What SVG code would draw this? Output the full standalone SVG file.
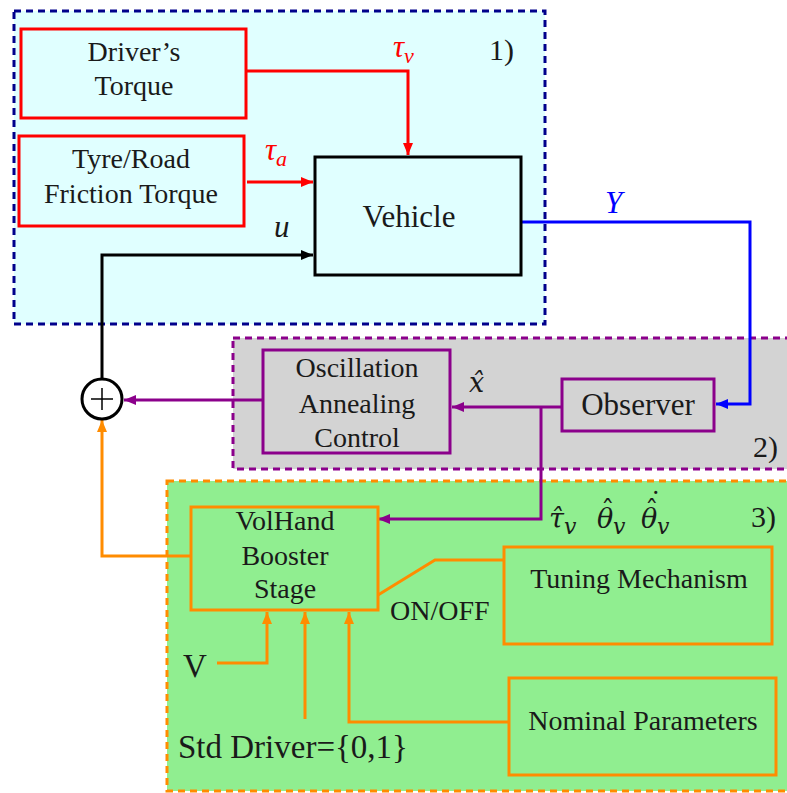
<svg xmlns="http://www.w3.org/2000/svg" width="787" height="793" viewBox="0 0 787 793" font-family="'Liberation Serif', 'DejaVu Serif', serif">
<style>
text{font-family:"Liberation Serif","DejaVu Serif",serif;fill:#1a1a1a}
.bt{font-size:28px;text-anchor:middle}
.big{font-size:31px;text-anchor:middle}
.lab{font-size:30px}
.m{font-size:31px;font-style:italic}
.mm{font-family:"DejaVu Serif",serif;font-size:27px;font-style:italic}
.sub{font-size:22px;font-style:italic}
.up{font-style:normal}
.red{stroke:#ff0000;stroke-width:3;fill:none}
.blk{stroke:#000;stroke-width:3;fill:none}
.blu{stroke:#0000ff;stroke-width:3;fill:none}
.pur{stroke:#8b008b;stroke-width:3;fill:none}
.org{stroke:#ff8c00;stroke-width:3;fill:none}
</style>
<defs>
<marker id="aR" markerUnits="userSpaceOnUse" markerWidth="12" markerHeight="10" refX="12" refY="5" orient="auto"><path d="M0,0L12,5L0,10z" fill="#ff0000"/></marker>
<marker id="aK" markerUnits="userSpaceOnUse" markerWidth="12" markerHeight="10" refX="12" refY="5" orient="auto"><path d="M0,0L12,5L0,10z" fill="#000"/></marker>
<marker id="aB" markerUnits="userSpaceOnUse" markerWidth="12" markerHeight="10" refX="12" refY="5" orient="auto"><path d="M0,0L12,5L0,10z" fill="#0000ff"/></marker>
<marker id="aP" markerUnits="userSpaceOnUse" markerWidth="12" markerHeight="10" refX="12" refY="5" orient="auto"><path d="M0,0L12,5L0,10z" fill="#8b008b"/></marker>
<marker id="aO" markerUnits="userSpaceOnUse" markerWidth="12" markerHeight="10" refX="12" refY="5" orient="auto"><path d="M0,0L12,5L0,10z" fill="#ff8c00"/></marker>
</defs>

<g id="region1">
<rect x="14" y="11" width="531" height="313" fill="#e0ffff" stroke="#00008b" stroke-width="3" stroke-dasharray="7 5"/>
<text class="lab" x="489" y="60">1)</text>
</g>
<g id="region2">
<rect x="233" y="338" width="570" height="131" fill="#d3d3d3" stroke="#8b008b" stroke-width="3" stroke-dasharray="7 5"/>
<text class="lab" x="753" y="457">2)</text>
</g>
<g id="region3">
<rect x="167" y="481" width="640" height="310" fill="#90ee90" stroke="#ff8c00" stroke-width="3" stroke-dasharray="7 5"/>
<text class="lab" x="751" y="527">3)</text>
</g>

<g id="connectors">
<path class="red" d="M246,71H408V155" marker-end="url(#aR)"/>
<path class="red" d="M247,182H313" marker-end="url(#aR)"/>
<path class="blk" d="M102,378V255H313" marker-end="url(#aK)"/>
<path class="blu" d="M522,222H750V404H716" marker-end="url(#aB)"/>
<path class="pur" d="M562,407H452" marker-end="url(#aP)"/>
<path class="pur" d="M541,407V519H378" marker-end="url(#aP)"/>
<path class="pur" d="M263,400H124" marker-end="url(#aP)"/>
<path class="org" d="M191,556H102V420" marker-end="url(#aO)"/>
<path class="org" d="M378,595L435,560H504"/>
<path class="org" d="M217,663H267V612" marker-end="url(#aO)"/>
<path class="org" d="M305,719V612" marker-end="url(#aO)"/>
<path class="org" d="M509,722H349V612" marker-end="url(#aO)"/>
</g>

<g id="labels">
<text class="m" x="393" y="57" style="fill:#ff0000">τ<tspan class="sub" dy="6" style="fill:#ff0000">v</tspan></text>
<text class="m" x="265" y="160" style="fill:#ff0000">τ<tspan class="sub" dy="6" style="fill:#ff0000">a</tspan></text>
<text class="m" x="274" y="237">u</text>
<text class="m" x="605" y="213" style="fill:#0000ff">Y</text>
<text class="mm" x="469" y="392">x̂</text>
<text class="mm" x="549" y="528">τ̂<tspan class="sub" dy="6">v</tspan></text>
<text class="mm" x="597" y="528">θ<tspan class="up" x="601" y="520">ˆ</tspan><tspan class="sub" x="613" y="534">v</tspan></text>
<text class="mm" x="641" y="528">θ<tspan class="up" x="645" y="520">ˆ</tspan><tspan class="up" x="649" y="512">˙</tspan><tspan class="sub" x="657" y="534">v</tspan></text>
<text class="lab" x="390" y="620" style="font-size:28px">ON/OFF</text>
<text class="lab" x="183" y="677" style="font-size:33px">V</text>
<text class="lab" x="178" y="758" style="font-size:33px">Std Driver={0,1}</text>
</g>

<g id="drivers-torque">
<rect class="red" x="21" y="29" width="225" height="89"/>
<text class="bt" x="134" y="61">Driver’s</text>
<text class="bt" x="134" y="95">Torque</text>
</g>
<g id="tyre-road">
<rect class="red" x="19" y="136" width="225" height="90"/>
<text class="bt" x="131" y="168">Tyre/Road</text>
<text class="bt" x="131" y="203">Friction Torque</text>
</g>
<g id="vehicle">
<rect class="blk" x="315" y="157" width="206" height="118"/>
<text class="big" x="409" y="227">Vehicle</text>
</g>
<g id="sum">
<circle cx="102" cy="399" r="20" fill="#fff" stroke="#000" stroke-width="3"/>
<path d="M91,399H113M102,388V410" stroke="#000" stroke-width="1.5"/>
</g>
<g id="oac">
<rect class="pur" x="263" y="350" width="187" height="103"/>
<text class="bt" x="357" y="377">Oscillation</text>
<text class="bt" x="357" y="413">Annealing</text>
<text class="bt" x="357" y="447">Control</text>
</g>
<g id="observer">
<rect class="pur" x="562" y="379" width="152" height="52"/>
<text class="big" x="638" y="415">Observer</text>
</g>
<g id="volhand">
<rect class="org" x="191" y="507" width="187" height="103"/>
<text class="bt" x="285" y="530">VolHand</text>
<text class="bt" x="285" y="565">Booster</text>
<text class="bt" x="285" y="598">Stage</text>
</g>
<g id="tuning">
<rect class="org" x="504" y="547" width="268" height="97"/>
<text class="bt" x="639" y="588">Tuning Mechanism</text>
</g>
<g id="nominal">
<rect class="org" x="509" y="678" width="267" height="97"/>
<text class="bt" x="643" y="730">Nominal Parameters</text>
</g>
</svg>
